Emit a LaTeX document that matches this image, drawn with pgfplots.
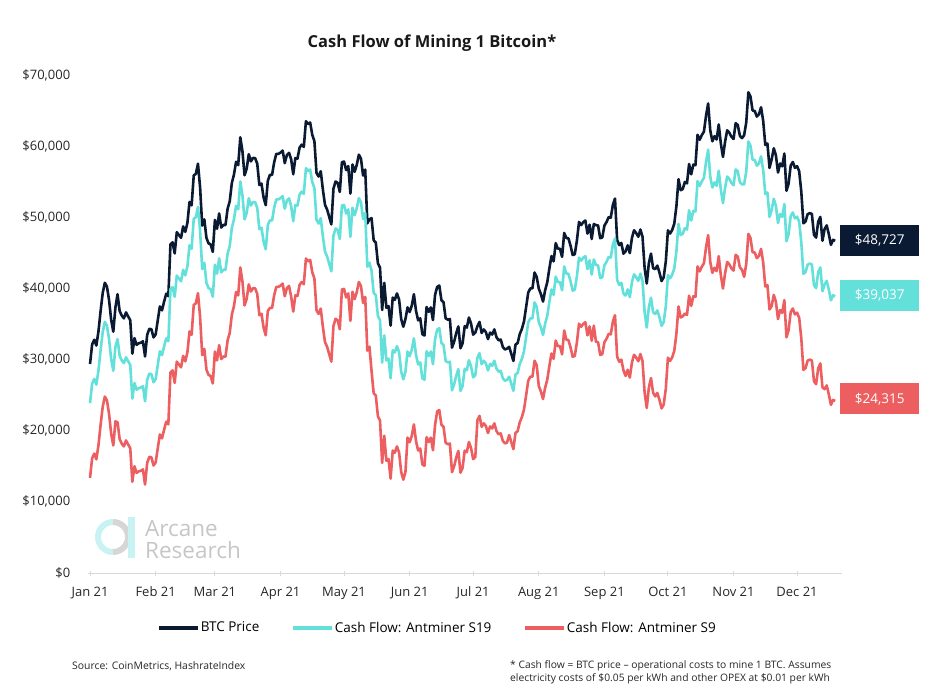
\documentclass[border=0pt]{standalone}
\usepackage{pgfplots}
\pgfplotsset{compat=1.18}
\usepackage{pgfplotstable}
\usepackage{fontspec}
\setmainfont{Open Sans}

\definecolor{btcnavy}{HTML}{0B1A33}
\definecolor{sturq}{HTML}{64E0DB}
\definecolor{sred}{HTML}{EC5E60}
\definecolor{axgray}{HTML}{D9D9D9}
\definecolor{logocyan}{HTML}{C8F3F2}
\definecolor{logogray}{HTML}{D6D6D6}
\definecolor{wmgray}{HTML}{C6C6C6}

% day (0 = 1 Jan 2021), BTC price, cash flow S19, cash flow S9
\pgfplotstableread{
day btc s19 s9
0 29374 23874 13374
1 32127 26627 16127
2 32782 27282 16782
3 31971 26471 15971
4 33992 28492 17992
5 36824 31324 20824
6 39371 33871 23371
7 40797 35297 24797
8 40254 34754 24254
9 38356 32856 22356
10 35566 30066 19566
11 33922 28422 17922
12 37316 31816 21316
13 39187 32887 21187
14 36825 30525 18825
15 36178 29878 18178
16 35792 29492 17792
17 36630 30330 18630
18 36069 29769 18069
19 35548 29248 17548
20 30826 24526 12826
21 33005 26705 15005
22 32067 25767 14067
23 32289 25989 14289
24 32366 26066 14366
25 32569 26269 14569
26 30433 24133 12433
27 33467 27167 15467
28 34316 28016 16316
29 34269 27969 16269
30 33114 26814 15114
31 33538 27238 15538
32 35510 29210 17510
33 37473 31173 19473
34 36926 30626 18926
35 38144 31844 20144
36 39266 32966 21266
37 38903 32603 20903
38 46196 39896 28196
39 46481 40181 28481
40 44918 38818 26718
41 47909 41809 29709
42 47504 41404 29304
43 47105 41005 28905
44 48717 42617 30517
45 47945 41845 29745
46 49199 43099 30999
47 52149 46049 33949
48 51679 45579 33479
49 55888 49788 37688
50 56099 49999 37899
51 57539 51439 39339
52 54207 48107 36007
53 48824 42724 30624
54 49705 43605 31505
55 47093 40793 28593
56 46339 40039 27839
57 46188 39888 27688
58 45137 38837 26637
59 49631 43331 31131
60 48378 42078 29878
61 50538 44238 32038
62 48561 42261 30061
63 48927 42627 30427
64 48912 42612 30412
65 51206 44906 32706
66 52246 45946 33746
67 54824 48524 36324
68 56008 49708 37508
69 57805 51605 39505
70 57332 51132 39032
71 61243 55043 42943
72 59302 53102 41002
73 55907 49707 37607
74 56804 50604 38504
75 58870 52670 40570
76 57858 51658 39558
77 58346 52146 40046
78 58313 52113 40013
79 57523 51323 39223
80 54529 48329 36229
81 54738 48538 36438
82 52774 46574 34474
83 51704 45504 33404
84 55137 48937 36837
85 55974 49574 37274
86 55947 49547 37247
87 57750 51350 39050
88 58918 52518 40218
89 58918 52518 40218
90 59095 52695 40395
91 59384 52984 40684
92 57604 51204 38904
93 58760 52360 40060
94 59057 52657 40357
95 58192 51592 38892
96 56048 49448 36748
97 58323 51723 39023
98 58245 51645 38945
99 59793 53193 40493
100 60204 53604 40904
101 59893 53293 40593
102 63503 56903 44203
103 63109 56509 43809
104 63314 56714 44014
105 61572 54972 42272
106 60683 54083 41383
107 56216 49616 36916
108 55724 49124 36424
109 56473 49873 37173
110 53906 47306 34606
111 51762 45162 32462
112 51093 44493 31793
113 50050 43450 30750
114 49004 42404 29704
115 54021 47421 34721
116 55033 48433 35733
117 54824 48224 35524
118 53555 46955 34255
119 57750 51650 39850
120 57828 51728 39928
121 56631 50531 38731
122 57200 51100 39300
123 53333 47233 35433
124 57424 51324 39524
125 56396 50296 38496
126 57356 51256 39456
127 58803 52703 40903
128 58232 52132 40332
129 55859 49759 37959
130 56704 50604 38804
131 49150 43050 31250
132 49716 43616 31816
133 49880 42480 28380
134 46760 39360 25260
135 46456 39056 24956
136 43537 36137 22037
137 42909 35509 21409
138 36964 29564 15464
139 40784 33384 19284
140 37280 29880 15780
141 37528 30128 16028
142 34770 27370 13270
143 38705 31305 17205
144 38402 31002 16902
145 39294 31894 17794
146 38436 31036 16936
147 35697 28297 14197
148 34616 27216 13116
149 35678 28278 14178
150 37332 31132 19032
151 36684 30484 18384
152 37575 31375 19275
153 39187 32987 20887
154 36851 30651 18551
155 35521 29321 17221
156 35796 29596 17496
157 33552 27352 15252
158 33380 27180 15080
159 37389 31189 19089
160 36702 30502 18402
161 37334 31134 19034
162 35552 29352 17252
163 39098 32898 20798
164 40219 34219 22719
165 40407 34407 22907
166 38347 32347 20847
167 38053 32053 20553
168 35787 29787 18287
169 35615 29615 18115
170 35698 29698 18198
171 31676 25676 14176
172 32505 26505 15005
173 33724 27724 16224
174 34663 28663 17163
175 31594 25594 14094
176 32276 26276 14776
177 34700 28700 17200
178 34494 28494 16994
179 35911 29911 18411
180 35045 29045 17545
181 33504 27504 16004
182 33786 27786 16286
183 34669 30269 21469
184 35287 30887 22087
185 33747 29347 20547
186 34235 29835 21035
187 33855 29455 20655
188 32877 28477 19677
189 33798 29398 20598
190 33520 29120 20320
191 34240 29840 21040
192 33155 28755 19955
193 32702 28302 19502
194 32822 28422 19622
195 31780 27380 18580
196 31421 27021 18221
197 31533 27133 18333
198 31796 27596 19396
199 30817 26617 18417
200 29807 25607 17407
201 32110 27910 19710
202 32314 28114 19914
203 33581 29381 21181
204 34292 30092 21892
205 35350 31150 22950
206 37337 33137 24937
207 39406 35206 27006
208 39995 35795 27595
209 40008 35808 27608
210 42235 38035 29835
211 41626 37426 29226
212 39974 35274 26274
213 39201 34501 25501
214 38152 33452 24452
215 39747 35047 26047
216 40869 36169 27169
217 42816 38116 29116
218 44555 39855 30855
219 43798 39098 30098
220 46365 41665 32665
221 45585 40885 31885
222 45593 40893 31893
223 44428 39728 30728
224 47793 43093 34093
225 47096 42096 32796
226 47047 42047 32747
227 46004 41004 31704
228 44695 39695 30395
229 44801 39801 30501
230 46717 41717 32417
231 49339 44339 35039
232 48905 43905 34605
233 49321 44321 35021
234 49546 44546 35246
235 47706 42706 33406
236 48960 43960 34660
237 46943 41943 32643
238 49058 44058 34758
239 48903 43303 32503
240 48847 43247 32447
241 47054 41454 30654
242 47166 41566 30766
243 48847 43247 32447
244 49327 43727 32927
245 50025 44425 33625
246 49944 44344 33544
247 51753 46153 35353
248 52633 47033 36233
249 46811 41211 30411
250 46091 40491 29691
251 46391 40791 29991
252 44883 39283 28483
253 45201 39001 27701
254 46063 39863 28563
255 44963 38763 27463
256 47092 40892 29592
257 48176 41976 30676
258 47783 41583 30283
259 47268 41068 29768
260 48278 42078 30778
261 47260 41060 29760
262 42844 36644 25344
263 40694 34494 23194
264 43574 37374 26074
265 44896 38696 27396
266 42840 36640 25340
267 42717 36417 24817
268 43209 36909 25309
269 42235 35935 24335
270 41035 34735 23135
271 41564 35264 23664
272 43791 37491 25891
273 48165 41865 30265
274 47711 41411 29811
275 48199 41899 30299
276 49113 42813 31213
277 51514 45214 33614
278 55361 49061 37461
279 53805 47505 35905
280 53967 47667 36067
281 54968 48468 36468
282 54771 48271 36271
283 57484 50984 38984
284 56041 49541 37541
285 57401 50901 38901
286 57322 50822 38822
287 61593 55093 43093
288 60892 54392 42392
289 61553 55053 43053
290 62026 55526 43526
291 64262 57762 45762
292 65993 59493 47493
293 62210 55710 43710
294 60693 54193 42193
295 61393 54893 42893
296 60931 54431 42431
297 63040 56540 44540
298 60364 53864 41864
299 58483 51983 39983
300 60622 54122 42122
301 62228 55728 43728
302 61889 55389 43389
303 61318 54818 42818
304 61005 54505 42505
305 63227 56727 44727
306 62970 56470 44470
307 61453 54953 42953
308 61125 54625 42625
309 61528 54628 41628
310 63327 56427 43427
311 67566 60666 47666
312 66971 60071 47071
313 64995 58095 45095
314 64950 58050 45050
315 64155 57255 44255
316 64469 57569 44569
317 65466 58566 45566
318 63557 56657 43657
319 60161 53261 40261
320 60368 53468 40468
321 56943 50043 37043
322 58119 51019 37519
323 59697 52597 39097
324 58731 51631 38131
325 56289 49189 35689
326 57569 50469 36969
327 57165 50065 36565
328 58960 51860 38360
329 53727 46627 33127
330 54722 47622 34122
331 57274 50174 36674
332 57776 50676 37176
333 56951 49851 36351
334 57185 50085 36585
335 56481 49381 35881
336 53602 46502 33002
337 49153 42053 28553
338 49396 42296 28796
339 50441 43341 29841
340 50588 43488 29988
341 50471 43371 29871
342 47545 40445 26945
343 47140 40040 26540
344 49390 42290 28790
345 50053 42953 29453
346 46702 39602 26102
347 48343 40543 25843
348 48864 41064 26364
349 47632 39832 25132
350 46131 38331 23631
351 46834 39034 24334
352 46681 38881 24181
}\cashflow

\begin{document}
\begin{tikzpicture}[x=1pt,y=1pt]
\path[use as bounding box] (0,0) rectangle (934,694);

\node[font=\fontsize{16.5}{19}\selectfont\bfseries, text=black!90] at (432,651) {Cash Flow of Mining 1 Bitcoin*};

% watermark
\draw[logocyan, line width=6pt] (113,157) ++(90:15) arc[start angle=90, end angle=270, radius=15];
\draw[logogray, line width=6pt] (113,157) ++(-90:15) arc[start angle=-90, end angle=90, radius=15];
\fill[logocyan] (128,136) rectangle (135,177);
\node[anchor=base west, inner sep=0pt, text=wmgray, font=\fontsize{22.5}{23}\selectfont] at (145,157.5) {Arcane};
\node[anchor=base west, inner sep=0pt, text=wmgray, font=\fontsize{22.5}{23}\selectfont] at (145,135.5) {Research};

\begin{axis}[
  at={(87.9pt,121pt)}, anchor=south west,
  scale only axis, width=753.6pt, height=498pt,
  xmin=-1, xmax=355, ymin=0, ymax=70000,
  axis x line*=bottom, axis y line*=left,
  y axis line style={draw=none},
  x axis line style={draw=axgray, line width=1pt},
  xtick={0,31,59,90,120,151,181,212,243,273,304,334},
  xticklabels={Jan 21,Feb 21,Mar 21,Apr 21,May 21,Jun 21,Jul 21,Aug 21,Sep 21,Oct 21,Nov 21,Dec 21},
  ytick={0,10000,20000,30000,40000,50000,60000,70000},
  yticklabels={{\$0},{\$10,000},{\$20,000},{\$30,000},{\$40,000},{\$50,000},{\$60,000},{\$70,000}},
  scaled y ticks=false,
  ytick style={draw=none},
  xtick style={draw=axgray, line width=1pt},
  tick align=center, major tick length=5pt,
  ticklabel style={font=\fontsize{13}{15}\selectfont, text=black!85},
  xticklabel style={anchor=north, inner sep=0pt, yshift=-11pt},
  yticklabel style={anchor=east, inner sep=0pt, xshift=-15pt},
  clip mode=individual,
  legend columns=3,
  legend style={draw=none, fill=none, at={(0.4633,-0.110)}, anchor=center,
    font=\fontsize{13.5}{15}\selectfont, nodes={inner xsep=1pt},
    /tikz/every even column/.append style={column sep=31pt}},
  legend image code/.code={\draw[#1, line width=3.5pt] (0pt,0pt) -- (39pt,0pt);},
  every axis plot/.append style={line width=2.6pt, line join=round, no markers},
]
\addplot[btcnavy] table[x=day, y=btc] {\cashflow};
\addlegendentry{BTC Price}
\addplot[sturq] table[x=day, y=s19] {\cashflow};
\addlegendentry{Cash Flow: Antminer S19}
\addplot[sred] table[x=day, y=s9] {\cashflow};
\addlegendentry{Cash Flow: Antminer S9}

\node[fill=btcnavy, text=white, anchor=west, minimum width=79pt, minimum height=31pt, inner sep=0pt, font=\fontsize{13.5}{15}\selectfont] at (axis cs:354.3,46740) {\$48,727};
\node[fill=sturq, text=white, anchor=west, minimum width=79pt, minimum height=31pt, inner sep=0pt, font=\fontsize{13.5}{15}\selectfont] at (axis cs:354.3,39006) {\$39,037};
\node[fill=sred, text=white, anchor=west, minimum width=79pt, minimum height=31pt, inner sep=0pt, font=\fontsize{13.5}{15}\selectfont] at (axis cs:354.3,24458) {\$24,315};
\end{axis}

\node[anchor=base west, inner sep=0pt, font=\fontsize{10.4}{12}\selectfont, text=black!85] at (72,24.5) {Source: CoinMetrics, HashrateIndex};
\node[anchor=base west, inner sep=0pt, font=\fontsize{10.3}{12}\selectfont, text=black!85] at (510,25.7) {* Cash flow = BTC price -- operational costs to mine 1 BTC. Assumes};
\node[anchor=base west, inner sep=0pt, font=\fontsize{10.3}{12}\selectfont, text=black!85] at (510,12.3) {electricity costs of \$0.05 per kWh and other OPEX at \$0.01 per kWh};
\end{tikzpicture}
\end{document}
